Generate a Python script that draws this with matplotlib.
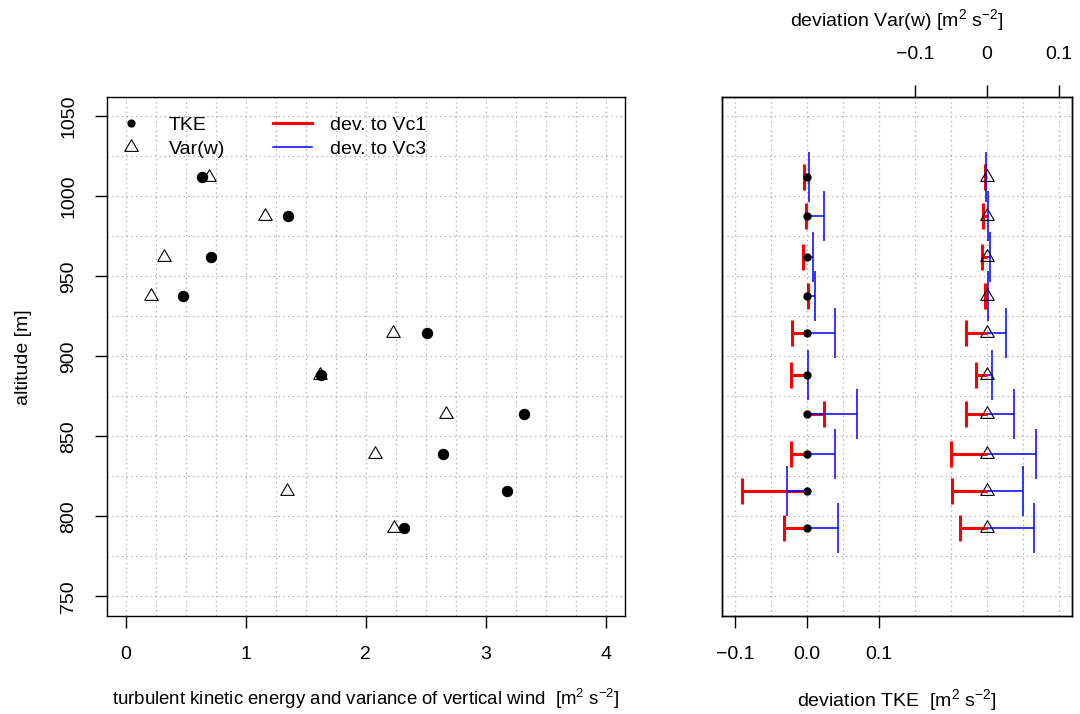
import matplotlib
matplotlib.use('Agg')
import matplotlib.pyplot as plt
from matplotlib.path import Path
from matplotlib.lines import Line2D
import numpy as np

# ---------------- data ----------------
altitude = [1011.9, 987.7, 962.1, 937.7, 914.6, 888.5, 864.0, 838.9, 815.8, 792.7]
tke = [0.633, 1.350, 0.706, 0.475, 2.509, 1.630, 3.316, 2.641, 3.173, 2.315]
var_w = [0.695, 1.162, 0.315, 0.211, 2.225, 1.615, 2.669, 2.076, 1.345, 2.236]

tke_dev_vc1 = [-0.004, -0.002, -0.006, 0.001, -0.021, -0.022, 0.024, -0.023, -0.091, -0.032]
tke_dev_vc3 = [0.002, 0.023, 0.008, 0.011, 0.039, 0.001, 0.069, 0.039, -0.028, 0.043]
varw_dev_vc1 = [-0.003, -0.006, -0.007, -0.002, -0.029, -0.015, -0.029, -0.050, -0.048, -0.038]
varw_dev_vc3 = [-0.001, 0.001, 0.005, 0.001, 0.027, 0.007, 0.038, 0.069, 0.050, 0.065]

left_xticks = [0, 1, 2, 3, 4]
left_yticks = [750, 800, 850, 900, 950, 1000, 1050]
tke_dev_ticks = [-0.1, 0.0, 0.1]
tke_dev_ticklabels = ['\u22120.1', '0.0', '0.1']
varw_dev_ticks = [-0.1, 0.0, 0.1]
varw_dev_ticklabels = ['\u22120.1', '0', '0.1']

legend_labels = ['TKE', 'Var(w)', 'dev. to Vc1', 'dev. to Vc3']
xlabel_left = r'turbulent kinetic energy and variance of vertical wind  [m$^2$ s$^{-2}$]'
xlabel_right = r'deviation TKE  [m$^2$ s$^{-2}$]'
xlabel_top = r'deviation Var(w) [m$^2$ s$^{-2}$]'
ylabel_left = 'altitude [m]'

# ---------------- style ----------------
plt.rcParams['font.family'] = ['Liberation Sans', 'DejaVu Sans']
plt.rcParams['font.size'] = 14
plt.rcParams['mathtext.fontset'] = 'custom'
plt.rcParams['mathtext.rm'] = 'Liberation Sans'
plt.rcParams['mathtext.it'] = 'Liberation Sans:italic'
plt.rcParams['mathtext.bf'] = 'Liberation Sans:bold'
plt.rcParams['mathtext.default'] = 'regular'

W, H = 1080, 714
fig = plt.figure(figsize=(W / 100, H / 100), dpi=100)

def fx(px):
    return px / W

def fy(py):
    return 1 - py / H

box_top, box_bot = 97.3, 615.5
axL = fig.add_axes([fx(106.7), fy(box_bot), fx(625 - 106.7), (box_bot - box_top) / H])
axR = fig.add_axes([fx(722.3), fy(box_bot), fx(1071.7 - 722.3), (box_bot - box_top) / H])

tri = Path([(0, 1), (-0.866, -0.5), (0.866, -0.5), (0, 1)],
           [Path.MOVETO, Path.LINETO, Path.LINETO, Path.CLOSEPOLY])

grid_kw = dict(color='#b4b4b4', linestyle=(0, (1.2, 2.6)), linewidth=0.9)
tick_len = 8.6

# ---------------- left panel ----------------
axL.set_xlim(-0.16, 4.16)
axL.set_ylim(738, 1062)
axL.set_xticks(left_xticks)
axL.set_xticklabels([str(v) for v in left_xticks])
axL.set_yticks(left_yticks)
axL.set_yticklabels([str(v) for v in left_yticks])
axL.set_xticks(np.arange(0, 4.001, 0.25), minor=True)
axL.set_yticks(np.arange(750, 1050.1, 25), minor=True)
axL.tick_params(which='minor', length=0)
axL.tick_params(axis='x', which='major', direction='out', length=tick_len, width=1.0, pad=13.5)
axL.tick_params(axis='y', which='major', direction='out', length=tick_len, width=1.0, pad=12.7)
for lab in axL.get_yticklabels():
    lab.set_rotation(90)
    lab.set_va('center')
axL.grid(which='both', **grid_kw)
axL.set_axisbelow(True)
for s in axL.spines.values():
    s.set_linewidth(1.0)

axL.plot(tke, altitude, linestyle='none', marker='o', ms=7.2, color='black', zorder=3)
axL.plot(var_w, altitude, linestyle='none', marker=tri, ms=11.2, mfc='none', mec='black',
         mew=0.8, zorder=4)

handles = [
    Line2D([], [], linestyle='none', marker='o', ms=4.9, color='black'),
    Line2D([], [], linestyle='none', marker=tri, ms=11.2, mfc='none', mec='black', mew=0.8),
    Line2D([], [], color='red', lw=2.2),
    Line2D([], [], color='blue', lw=1.1),
]
axL.legend(handles, legend_labels, ncol=2, loc='upper left',
           bbox_to_anchor=(0.0093, 0.9639), frameon=False,
           handlelength=2.0, handletextpad=0.93, columnspacing=2.47,
           labelspacing=0.35, borderpad=0, borderaxespad=0, fontsize=14)

# ---------------- right panel ----------------
axR.set_xlim(-0.118, 0.368)
axR.set_ylim(738, 1062)
axR.set_xticks(tke_dev_ticks)
axR.set_xticklabels(tke_dev_ticklabels)
axR.set_yticks([])
axR.set_xticks(np.arange(-0.1, 0.3501, 0.05), minor=True)
axR.set_yticks(np.arange(750, 1050.1, 25), minor=True)
axR.tick_params(which='minor', length=0)
axR.tick_params(axis='x', which='major', direction='out', length=tick_len, width=1.0, pad=13.5)
axR.grid(which='both', **grid_kw)
axR.set_axisbelow(True)
for s in axR.spines.values():
    s.set_linewidth(1.0)

# TKE deviations (bottom axis)
axR.hlines(altitude, 0, tke_dev_vc1, color='red', lw=2.2, zorder=2)
axR.plot(tke_dev_vc1, altitude, linestyle='none', marker='|', ms=18.7, mew=2.2, color='red', zorder=2)
axR.hlines(altitude, 0, tke_dev_vc3, color='blue', lw=1.1, zorder=2.5)
axR.plot(tke_dev_vc3, altitude, linestyle='none', marker='|', ms=36, mew=1.1, color='blue', zorder=2.5)
axR.plot(np.zeros(len(altitude)), altitude, linestyle='none', marker='o', ms=5.0, color='black', zorder=3)

# Var(w) deviations (top axis)
axT = axR.twiny()
axT.set_xlim(-0.368, 0.118)
axT.set_ylim(738, 1062)
axT.set_xticks(varw_dev_ticks)
axT.set_xticklabels(varw_dev_ticklabels)
axT.tick_params(axis='x', which='major', direction='out', length=tick_len, width=1.0, pad=15.8)
for s in axT.spines.values():
    s.set_linewidth(1.0)
axT.hlines(altitude, 0, varw_dev_vc1, color='red', lw=2.2, zorder=2)
axT.plot(varw_dev_vc1, altitude, linestyle='none', marker='|', ms=18.7, mew=2.2, color='red', zorder=2)
axT.hlines(altitude, 0, varw_dev_vc3, color='blue', lw=1.1, zorder=2.5)
axT.plot(varw_dev_vc3, altitude, linestyle='none', marker='|', ms=36, mew=1.1, color='blue', zorder=2.5)
axT.plot(np.zeros(len(altitude)), altitude, linestyle='none', marker=tri, ms=11.2, mfc='none',
         mec='black', mew=0.8, zorder=3)

# ---------------- axis titles ----------------
fig.text(fx(366), fy(705), xlabel_left, ha='center', va='baseline', fontsize=13.45)
fig.text(fx(897), fy(706), xlabel_right, ha='center', va='baseline', fontsize=14)
fig.text(fx(897), fy(26), xlabel_top, ha='center', va='baseline', fontsize=14)
fig.text(fx(28), fy(357), ylabel_left, ha='center', va='baseline', rotation=90,
         rotation_mode='anchor', fontsize=14)

fig.savefig('out.png', dpi=100)
